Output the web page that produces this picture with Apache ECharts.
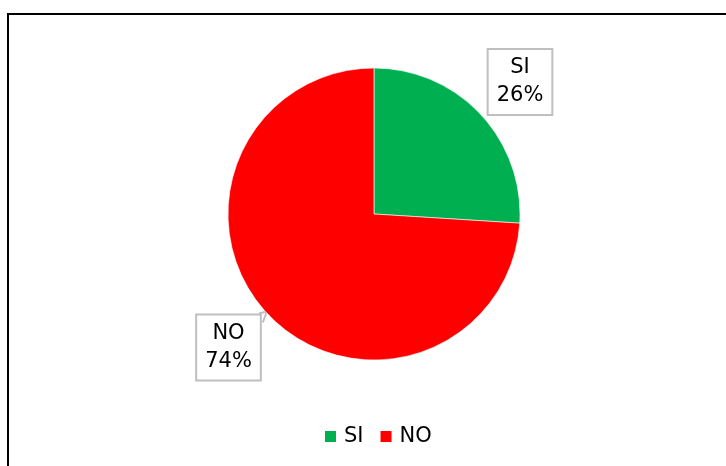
<!DOCTYPE html>
<html>
<head>
<meta charset="utf-8">
<script src="https://cdn.jsdelivr.net/npm/echarts@6/dist/echarts.min.js"></script>
<style>
  html, body { margin: 0; padding: 0; background: #fff; }
  #chart { width: 726px; height: 466px; }
</style>
</head>
<body>
<div id="chart"></div>
<script>
// Answer categories and their shares
const categories = ['SI', 'NO'];
const values = [26, 74];
const colors = ['#00B050', '#FF0000'];

const chart = echarts.init(document.getElementById('chart'));

const data = categories.map((name, i) => ({
  name: name,
  value: values[i],
  itemStyle: { color: colors[i] },
  labelLine: { show: i === 1 }
}));

// Fixed callout box centres for each slice label
const labelSpots = [
  { x: 520, y: 82 },
  { x: 228.5, y: 347.5 }
];

chart.setOption({
  animation: false,
  backgroundColor: '#fff',
  graphic: [{
    type: 'rect',
    shape: { x: 8, y: 14, width: 760, height: 500 },
    style: { fill: 'none', stroke: '#000', lineWidth: 2 },
    silent: true
  }],
  legend: {
    data: categories,
    left: 318,
    top: 421,
    itemWidth: 13,
    itemHeight: 13,
    itemGap: 15,
    icon: 'rect',
    textStyle: { fontFamily: 'DejaVu Sans', fontSize: 21, color: '#000', padding: [3, 0, 0, 2] }
  },
  series: [{
    type: 'pie',
    center: [374, 214],
    radius: 146,
    startAngle: 90,
    clockwise: true,
    itemStyle: { borderColor: '#fff', borderWidth: 0.6 },
    label: {
      show: true,
      position: 'outside',
      formatter: '{b}\n{d}%',
      fontFamily: 'DejaVu Sans',
      fontSize: 21,
      lineHeight: 28,
      color: '#000',
      align: 'center',
      backgroundColor: '#fff',
      borderColor: '#bfbfbf',
      borderWidth: 2,
      padding: [4, 8, 4, 8]
    },
    labelLine: {
      show: true,
      lineStyle: { color: '#bfbfbf', width: 2 }
    },
    labelLayout: function (params) {
      const i = params.dataIndex;
      const p = labelSpots[i];
      const res = { x: p.x, y: p.y, align: 'center', verticalAlign: 'middle' };
      if (i === 1) {
        // small callout wedge on the box's top-right corner
        const r = params.labelRect;
        const right = p.x + r.width / 2;
        const top = p.y - r.height / 2;
        res.labelLinePoints = [[right - 3, top], [right + 5, top - 2], [right + 1, top + 9]];
      }
      return res;
    },
    data: data
  }]
});
</script>
</body>
</html>
